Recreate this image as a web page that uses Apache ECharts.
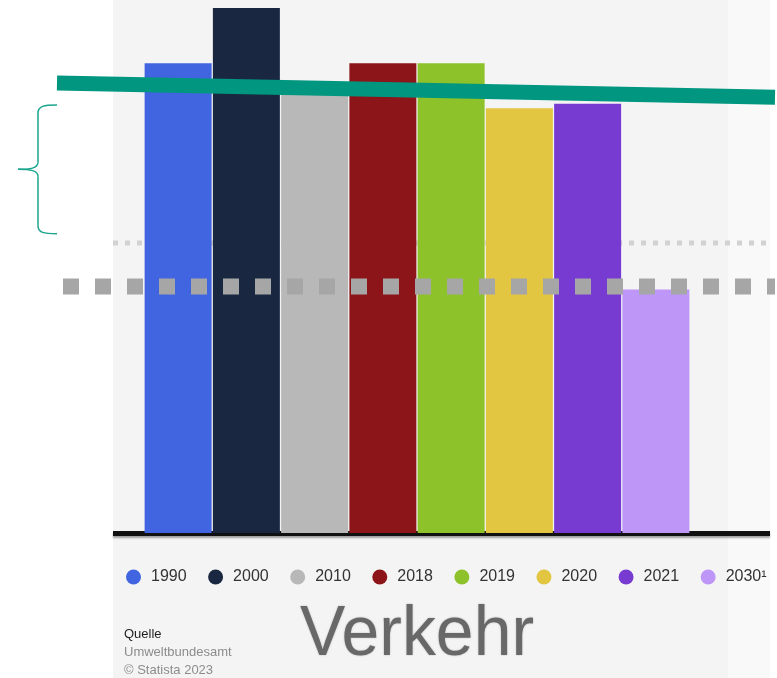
<!DOCTYPE html>
<html>
<head>
<meta charset="utf-8">
<script src="https://cdn.jsdelivr.net/npm/echarts@6/dist/echarts.min.js"></script>
<style>
  html, body { margin: 0; padding: 0; background: #fff; }
  #chart { width: 777px; height: 678px; }
</style>
</head>
<body>
<div id="chart"></div>
<script>
// Werte (Mio. t CO2-Äq.)
var years = ['1990', '2000', '2010', '2018', '2019', '2020', '2021', '2030¹'];
var values = [162, 181, 153, 162, 162, 146.5, 148, 84];
var colors = ['#4164e0', '#192840', '#b8b8b8', '#8b1519', '#8dc22a', '#e2c642', '#783bd2', '#bd96f8'];

// Hilfslinien
var trendLine = [155.2, 150.3];   // grüne Linie, Anfang / Ende
var targetLine = 85;              // Ziel 2030, grau gestrichelt
var gridLineValue = 100;
var braceRange = [147.6, 103.2];  // geschweifte Klammer links

var yMax = 183.8;

var chart = echarts.init(document.getElementById('chart'));

var barSeries = years.map(function (y, i) {
    return {
        name: y,
        type: 'bar',
        xAxisIndex: 0,
        yAxisIndex: 0,
        barWidth: 67,
        barGap: '-100%',
        itemStyle: { color: colors[i] },
        data: years.map(function (_, j) { return j === i ? values[i] : '-'; }),
        z: 3
    };
});

var yAx = function (idx) {
    return {
        gridIndex: idx,
        type: 'value',
        min: 0,
        max: yMax,
        show: false
    };
};

var option = {
    animation: false,
    backgroundColor: '#ffffff',
    graphic: [
        { type: 'rect', z: -10, silent: true, shape: { x: 113, y: 0, width: 615, height: 678 }, style: { fill: '#f4f4f4' } },
        { type: 'rect', z: -10, silent: true, shape: { x: 728, y: 0, width: 42, height: 678 }, style: { fill: '#f9f9f9' } },
        {
            type: 'text', left: 300, top: 601, silent: true,
            style: { text: 'Verkehr', fontSize: 70, fontFamily: 'Liberation Sans, Arial, sans-serif', fill: '#686868', textShadowColor: 'rgba(0,0,0,0.25)', textShadowBlur: 2 },
            scaleX: 0.97
        },
        { type: 'text', left: 124, top: 628, silent: true, style: { text: 'Quelle', fontSize: 13, fontFamily: 'Liberation Sans, Arial', fill: '#1e1e1e' } },
        { type: 'text', left: 124, top: 646, silent: true, style: { text: 'Umweltbundesamt', fontSize: 13, fontFamily: 'Liberation Sans, Arial', fill: '#8c8c8c' } },
        { type: 'text', left: 124, top: 664, silent: true, style: { text: '© Statista 2023', fontSize: 13, fontFamily: 'Liberation Sans, Arial', fill: '#8c8c8c' } }
    ],
    legend: {
        data: years,
        left: 126,
        top: 569,
        padding: 0,
        icon: 'circle',
        itemWidth: 15,
        itemHeight: 15,
        itemGap: 21.5,
        selectedMode: false,
        textStyle: { fontSize: 16, color: '#333', fontFamily: 'Liberation Sans, Arial', padding: [0, 0, 0, 5] }
    },
    grid: [
        { left: 144, width: 546, top: 0, height: 533 },
        { left: 57, width: 718, top: 0, height: 533 },
        { left: 113, width: 657, top: 0, height: 533 }
    ],
    xAxis: [
        { gridIndex: 0, type: 'category', data: years, show: false },
        { gridIndex: 1, type: 'value', min: 0, max: 1, show: false },
        {
            gridIndex: 2, type: 'value', min: 0, max: 1, offset: 2.5,
            axisLine: { show: true, lineStyle: { color: '#111', width: 5, cap: 'butt', shadowColor: 'rgba(0,0,0,0.35)', shadowBlur: 2, shadowOffsetY: 2 } },
            axisTick: { show: false }, axisLabel: { show: false }, splitLine: { show: false }
        }
    ],
    yAxis: [yAx(0), yAx(1), yAx(2)],
    series: barSeries.concat([
        {
            name: 'Raster', type: 'line', xAxisIndex: 2, yAxisIndex: 2, symbol: 'none', silent: true, z: 1,
            lineStyle: { color: '#d2d2d2', width: 5, type: [5, 7] },
            data: [[0, gridLineValue], [1, gridLineValue]]
        },
        {
            name: 'Ziel', type: 'line', xAxisIndex: 1, yAxisIndex: 1, symbol: 'none', silent: true, z: 5,
            lineStyle: { color: '#a6a6a6', width: 16, type: [16, 16], dashOffset: 26 },
            data: [[0, targetLine], [1, targetLine]]
        },
        {
            name: 'Trend', type: 'line', xAxisIndex: 1, yAxisIndex: 1, symbol: 'none', silent: true, z: 6,
            lineStyle: { color: '#00967f', width: 15 },
            data: [[0, trendLine[0]], [1, trendLine[1]]]
        }
    ])
};

chart.setOption(option);

// geschweifte Klammer aus den y-Werten
var yTop = chart.convertToPixel({ yAxisIndex: 1 }, braceRange[0]);
var yBot = chart.convertToPixel({ yAxisIndex: 1 }, braceRange[1]);
var yMid = (yTop + yBot) / 2;
var braceStyle = { fill: null, stroke: '#1aa58e', lineWidth: 1.5 };
var curve = function (x1, y1, c1x, c1y, c2x, c2y, x2, y2) {
    return {
        type: 'bezierCurve', silent: true, z: 10,
        shape: { x1: x1, y1: y1, cpx1: c1x, cpy1: c1y, cpx2: c2x, cpy2: c2y, x2: x2, y2: y2 },
        style: braceStyle
    };
};
var seg = function (x1, y1, x2, y2) {
    return { type: 'line', silent: true, z: 10, shape: { x1: x1, y1: y1, x2: x2, y2: y2 }, style: braceStyle };
};

chart.setOption({
    graphic: option.graphic.concat([
        curve(57, yTop, 44, yTop, 38, yTop + 1, 38, yTop + 8),
        seg(38, yTop + 8, 38, yMid - 7),
        curve(38, yMid - 7, 38, yMid - 1, 30, yMid, 18, yMid),
        curve(18, yMid, 30, yMid, 38, yMid + 1, 38, yMid + 7),
        seg(38, yMid + 7, 38, yBot - 8),
        curve(38, yBot - 8, 38, yBot - 1, 44, yBot, 57, yBot)
    ])
});
</script>
</body>
</html>
